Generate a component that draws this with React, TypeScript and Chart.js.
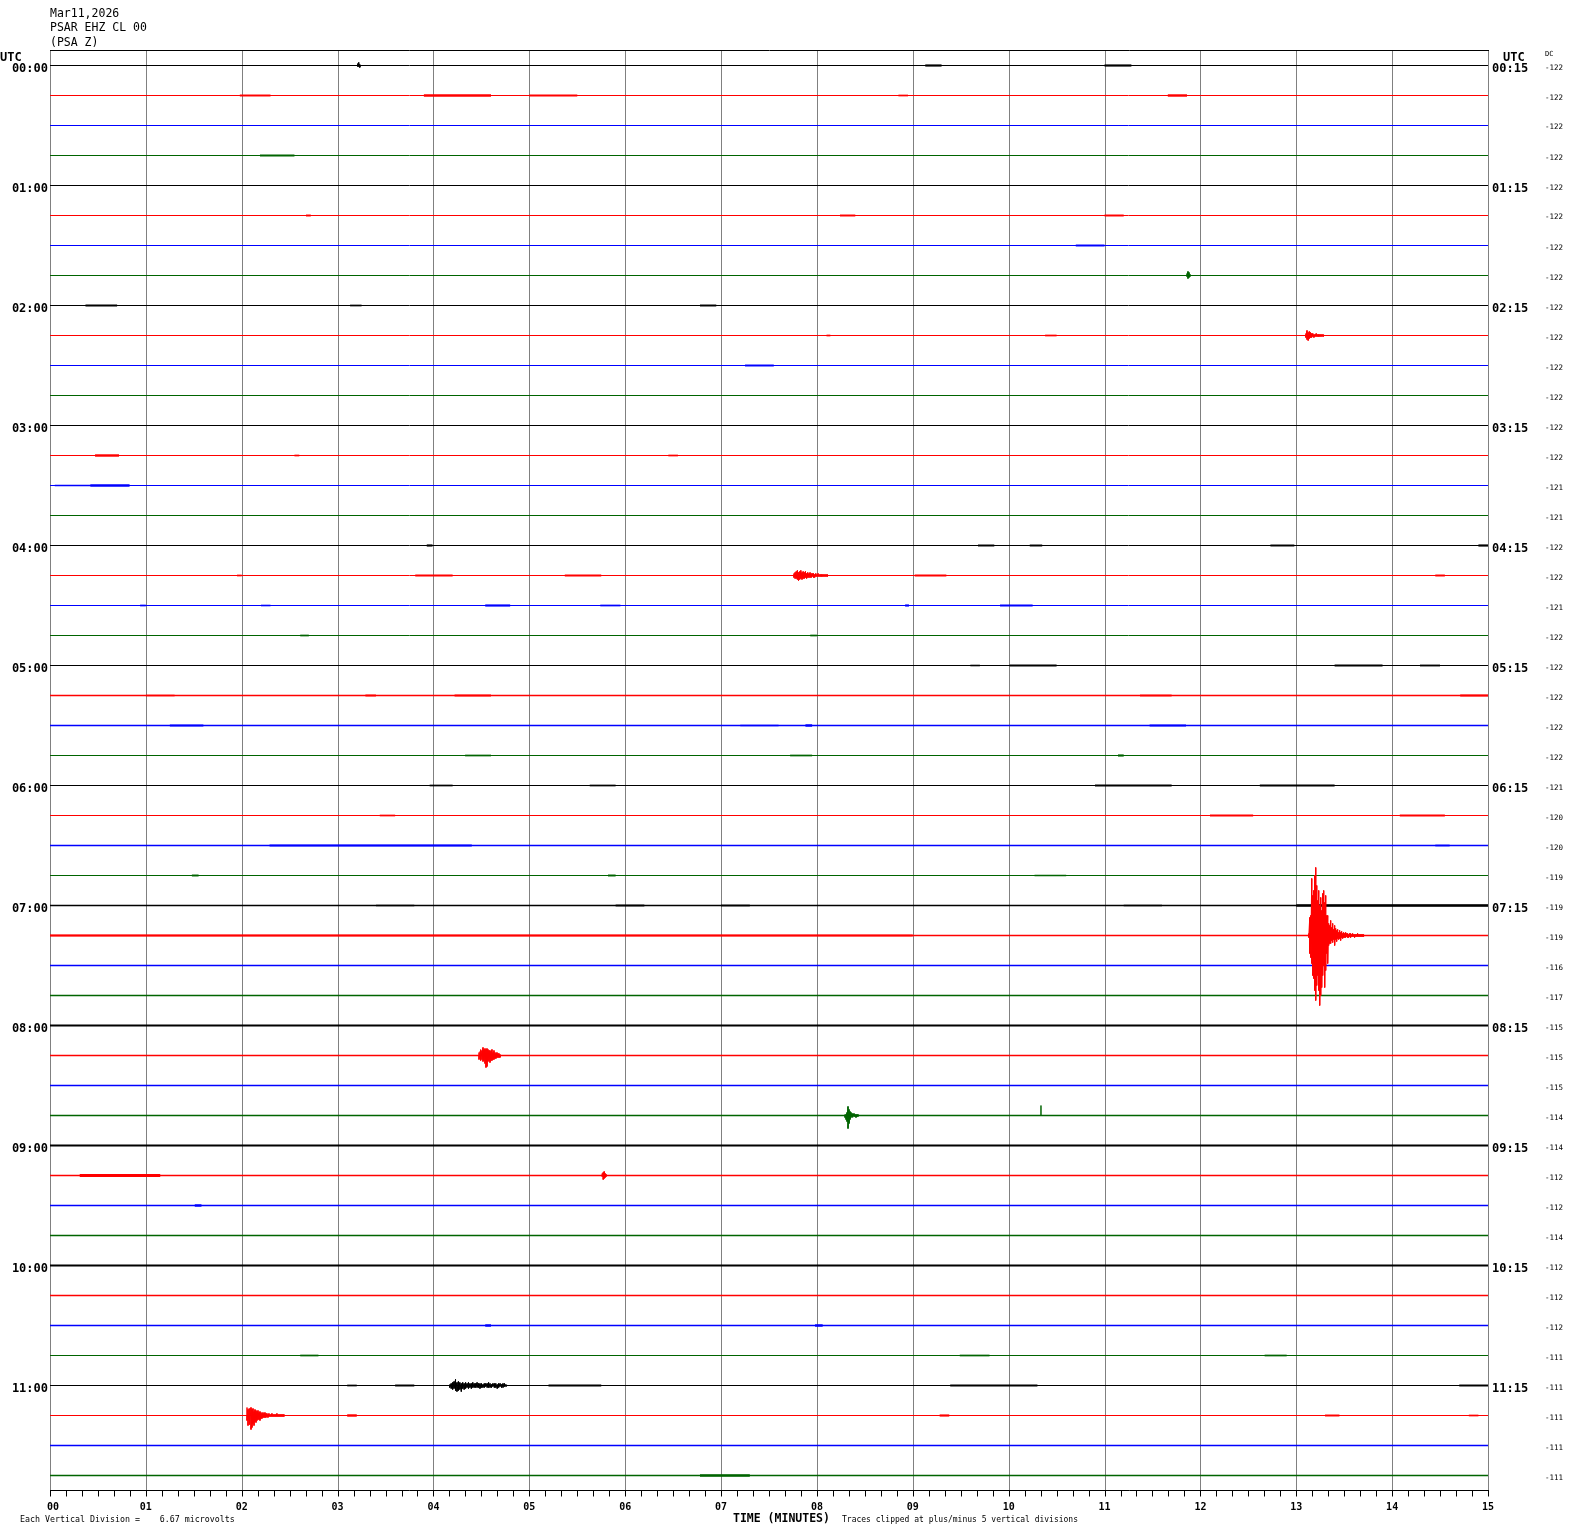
import React, { useEffect, useRef } from "react";
import { Chart, registerables } from "chart.js";

Chart.register(...registerables);

// ---------------- DATA ----------------
const HEADER_LINES = ["Mar11,2026", "PSAR EHZ CL 00", "(PSA Z)"];
const LEFT_HOUR_LABELS = ["00:00", "01:00", "02:00", "03:00", "04:00", "05:00", "06:00", "07:00", "08:00", "09:00", "10:00", "11:00"];
const RIGHT_HOUR_LABELS = ["00:15", "01:15", "02:15", "03:15", "04:15", "05:15", "06:15", "07:15", "08:15", "09:15", "10:15", "11:15"];
const MINUTE_TICKS = ["00", "01", "02", "03", "04", "05", "06", "07", "08", "09", "10", "11", "12", "13", "14", "15"];
const DC_VALUES = [
  -122, -122, -122, -122, -122, -122, -122, -122, -122, -122, -122, -122,
  -122, -122, -121, -121, -122, -122, -121, -122, -122, -122, -122, -122,
  -121, -120, -120, -119, -119, -119, -116, -117, -115, -115, -115, -114,
  -114, -112, -112, -114, -112, -112, -112, -111, -111, -111, -111, -111,
];
// background noise amplitude (units, +/-) per trace
const NOISE = [
  0, 0, 0, 0, 0, 0, 0, 0, 0, 0, 0, 0,
  0, 0, 0, 0, 0, 0, 0, 0, 0.1, 0.3, 0.4, 0.15,
  0.2, 0.2, 0.3, 0.2, 0.4, 0.4, 0.6, 0.6, 0.8, 0.6, 0.6, 0.5,
  0.8, 0.6, 0.6, 0.5, 0.7, 0.5, 0.5, 0.2, 0.2, 0.2, 0.5, 0.5,
];
const TRACE_COUNT = 48;
const SPACING = 30; // data units between trace baselines

// events: trace index, start minute, column step (min), envelope [max, min] per column
type Ev = { trace: number; start: number; dt: number; env: [number, number][] };
const EVENTS: Ev[] = [
  { trace: 0, start: 3.21, dt: 0.0104, env: [[2, -1], [3, -1], [1, -2]] },
  { trace: 7, start: 11.86, dt: 0.0104, env: [[2, -1], [4, -3], [3, -2], [1, -1]] },
  {
    trace: 9, start: 13.1, dt: 0.012,
    env: [[2, -2], [5, -4], [3, -5], [4, -3], [3, -2], [2, -2], [2, -1], [1, -2], [1, -1], [2, -1], [1, -1], [1, -1], [1, -1], [1, -1], [1, -1], [1, -1]],
  },
  {
    trace: 17, start: 7.76, dt: 0.012,
    env: [[2, -2], [3, -3], [4, -3], [5, -4], [3, -5], [4, -4], [5, -3], [3, -4], [4, -3], [3, -3], [4, -2], [2, -3], [3, -2], [2, -2], [3, -2], [2, -2], [2, -1], [2, -2], [1, -2], [2, -1], [1, -1], [2, -1], [1, -1], [1, -1], [1, -1], [1, -1], [1, -1], [1, -1], [1, -1], [1, -1]],
  },
  {
    trace: 29, start: 13.13, dt: 0.0104,
    env: [[2, -2], [18, -18], [20, -22], [57, -28], [40, -40], [45, -43], [60, -55], [68, -65], [50, -50], [35, -40], [45, -55], [30, -70], [38, -60], [25, -52], [42, -40], [45, -30], [33, -52], [40, -35], [20, -18], [20, -28], [12, -10], [10, -8], [15, -8], [8, -5], [12, -7], [6, -4], [10, -10], [7, -4], [5, -6], [6, -3], [3, -4], [5, -3], [3, -5], [4, -2], [2, -3], [3, -2], [2, -2], [3, -2], [2, -1], [2, -2], [1, -2], [2, -1], [2, -2], [1, -1], [2, -1], [1, -1], [1, -2], [1, -1], [1, -1], [2, -1], [1, -1], [1, -1], [1, -1], [1, -1], [1, -1], [1, -1]],
  },
  {
    trace: 33, start: 4.475, dt: 0.0104,
    env: [[3, -4], [4, -3], [6, -5], [5, -4], [8, -6], [6, -5], [7, -8], [6, -12], [7, -11], [6, -6], [5, -5], [5, -7], [4, -5], [6, -5], [3, -4], [5, -4], [3, -3], [2, -3], [3, -2], [2, -2], [2, -2], [1, -2]],
  },
  {
    trace: 35, start: 8.293, dt: 0.0104,
    env: [[1, -2], [1, -4], [3, -6], [9, -13], [6, -8], [4, -4], [3, -2], [2, -2], [1, -1], [2, -1], [1, -1], [1, -2], [1, -1], [1, -1]],
  },
  { trace: 35, start: 10.337, dt: 0.0104, env: [[10, 0]] },
  { trace: 37, start: 5.76, dt: 0.0104, env: [[2, -1], [3, -4], [4, -3], [2, -2], [1, -1]] },
  {
    trace: 44, start: 4.17, dt: 0.015,
    env: [[1, -2], [2, -3], [3, -4], [4, -3], [6, -5], [3, -6], [4, -5], [3, -4], [2, -6], [3, -3], [2, -4], [3, -3], [2, -2], [3, -3], [2, -2], [2, -3], [3, -2], [2, -2], [2, -2], [3, -2], [2, -2], [2, -3], [2, -2], [1, -2], [2, -2], [2, -1], [2, -2], [3, -2], [2, -2], [1, -2], [2, -1], [2, -2], [2, -2], [1, -3], [2, -2], [2, -1], [1, -2], [2, -2], [2, -1], [1, -1]],
  },
  {
    trace: 45, start: 2.055, dt: 0.0104,
    env: [[8, -5], [6, -10], [7, -8], [5, -9], [8, -14], [6, -12], [7, -8], [4, -10], [6, -6], [5, -7], [4, -5], [5, -4], [3, -4], [4, -5], [3, -3], [2, -3], [3, -2], [2, -2], [3, -2], [2, -2], [2, -1], [1, -2], [2, -1], [1, -1], [1, -1], [2, -1], [1, -1], [1, -1], [1, -1], [1, -1], [2, -1], [1, -1], [1, -1], [1, -1], [1, -1], [1, -1], [1, -1], [1, -1]],
  },
];

// small bursts: [trace, start minute, end minute, amplitude]
const SMUDGES: [number, number, number, number][] = [
  [0, 9.13, 9.3, 1], [0, 11.0, 11.28, 1],
  [1, 1.98, 2.3, 0.8], [1, 3.9, 4.6, 1.2], [1, 5.0, 5.5, 0.8], [1, 11.66, 11.86, 1.2], [1, 8.85, 8.95, 0.6],
  [3, 2.19, 2.55, 0.7],
  [5, 2.67, 2.72, 0.8], [5, 8.24, 8.4, 0.8], [5, 11.0, 11.2, 0.8],
  [6, 10.7, 11.0, 0.8],
  [8, 0.37, 0.7, 0.8], [8, 3.13, 3.25, 0.6], [8, 6.78, 6.95, 0.8],
  [9, 10.38, 10.5, 0.6], [9, 8.1, 8.14, 0.6],
  [10, 7.25, 7.55, 0.8],
  [13, 0.47, 0.72, 1.2], [13, 6.45, 6.55, 0.6], [13, 2.55, 2.6, 0.6],
  [14, 0.05, 0.42, 0.6], [14, 0.42, 0.83, 1.3],
  [16, 3.93, 3.99, 1], [16, 9.68, 9.85, 0.8], [16, 10.22, 10.35, 0.8], [16, 12.73, 12.98, 0.8], [16, 14.9, 15, 1],
  [17, 3.81, 4.2, 0.8], [17, 5.37, 5.75, 0.8], [17, 9.02, 9.35, 1], [17, 14.45, 14.55, 0.8], [17, 1.95, 2.0, 0.6],
  [18, 4.54, 4.8, 1], [18, 8.92, 8.96, 1], [18, 9.91, 10.25, 1], [18, 5.74, 5.95, 0.6], [18, 0.94, 1.0, 0.6], [18, 2.2, 2.3, 0.5],
  [19, 2.61, 2.7, 0.6], [19, 7.93, 8.0, 0.6],
  [20, 10.01, 10.5, 0.7], [20, 13.4, 13.9, 0.9], [20, 14.29, 14.5, 0.7], [20, 9.6, 9.7, 0.5],
  [21, 4.22, 4.6, 0.9], [21, 3.29, 3.4, 0.8], [21, 11.37, 11.7, 0.7], [21, 14.71, 15.0, 0.9], [21, 1.0, 1.3, 0.5],
  [22, 1.25, 1.6, 0.9], [22, 7.88, 7.95, 1.2], [22, 11.47, 11.85, 1], [22, 7.2, 7.6, 0.5],
  [23, 4.33, 4.6, 0.6], [23, 7.72, 7.95, 0.6], [23, 11.14, 11.2, 1],
  [24, 3.96, 4.2, 0.6], [24, 5.63, 5.9, 0.6], [24, 10.9, 11.7, 0.9], [24, 12.62, 13.4, 0.9],
  [25, 3.44, 3.6, 0.6], [25, 12.1, 12.55, 0.7], [25, 14.08, 14.55, 0.7],
  [26, 2.29, 4.4, 0.7], [26, 14.45, 14.6, 0.6],
  [27, 1.48, 1.55, 0.8], [27, 5.82, 5.9, 0.8], [27, 10.27, 10.6, 0.6],
  [28, 13.0, 15.0, 1.4], [28, 3.4, 3.8, 0.6], [28, 5.9, 6.2, 0.7], [28, 7.0, 7.3, 0.6], [28, 11.2, 11.6, 0.6],
  [29, 0.0, 9.0, 0.8],
  [37, 0.31, 1.15, 1.6],
  [38, 1.51, 1.58, 1.2],
  [42, 4.54, 4.6, 1.2], [42, 7.98, 8.06, 1.2],
  [43, 9.49, 9.8, 0.6], [43, 12.67, 12.9, 0.6], [43, 2.61, 2.8, 0.6],
  [44, 3.1, 3.2, 0.6], [44, 3.6, 3.8, 0.8], [44, 5.2, 5.75, 0.8], [44, 9.39, 10.3, 0.9], [44, 14.7, 15, 0.8],
  [45, 3.1, 3.2, 1.2], [45, 9.28, 9.38, 1], [45, 13.3, 13.45, 0.8], [45, 14.8, 14.9, 0.6],
  [47, 6.78, 7.3, 1.2],
];

// ---------------- STYLE ----------------
const COLORS = ["#000000", "#ff0000", "#0000ff", "#006400"];
const GRID_GRAY = "#808080";
const MONO = "'DejaVu Sans Mono', 'Liberation Mono', monospace";

const baseOf = (i: number) => -SPACING * i;
const widthFor = (amp: number) => 1 + 1.2 * amp;

const framePlugin = {
  id: "heliFrame",
  beforeDatasetsDraw(chart: any) {
    const { ctx, chartArea } = chart;
    const xs = chart.scales.x;
    ctx.save();
    ctx.lineWidth = 1;
    ctx.strokeStyle = GRID_GRAY;
    for (let m = 0; m <= 15; m++) {
      const px = Math.round(xs.getPixelForValue(m)) + 0.5;
      ctx.beginPath();
      ctx.moveTo(px, chartArea.top);
      ctx.lineTo(px, chartArea.bottom);
      ctx.stroke();
    }
    ctx.strokeStyle = "#000";
    ctx.beginPath();
    ctx.moveTo(chartArea.left, chartArea.top + 0.5);
    ctx.lineTo(Math.round(xs.getPixelForValue(15)) + 1, chartArea.top + 0.5);
    ctx.stroke();
    ctx.restore();
  },
  afterDraw(chart: any) {
    const { ctx, chartArea } = chart;
    const xs = chart.scales.x;
    const ys = chart.scales.y;
    ctx.save();
    // bottom axis
    const axY = chartArea.bottom + 0.5;
    ctx.strokeStyle = "#000";
    ctx.lineWidth = 1;
    ctx.beginPath();
    ctx.moveTo(chartArea.left, axY);
    ctx.lineTo(Math.round(xs.getPixelForValue(15)) + 1, axY);
    ctx.stroke();
    for (let k = 0; k <= 90; k++) {
      const px = Math.round(xs.getPixelForValue(k / 6)) + 0.5;
      ctx.beginPath();
      ctx.moveTo(px, axY);
      ctx.lineTo(px, axY + 6);
      ctx.stroke();
    }
    ctx.fillStyle = "#000";
    ctx.textBaseline = "alphabetic";
    ctx.font = `bold 10px ${MONO}`;
    ctx.textAlign = "center";
    MINUTE_TICKS.forEach((lab, m) => {
      let px = xs.getPixelForValue(m);
      if (m === 0) px += 3;
      ctx.fillText(lab, px, chartArea.bottom + 20);
    });
    ctx.textAlign = "left";
    ctx.font = `bold 11.5px ${MONO}`;
    ctx.fillText("TIME (MINUTES)", 733, chartArea.bottom + 31.5);
    ctx.font = `8px ${MONO}`;
    ctx.fillText("Traces clipped at plus/minus 5 vertical divisions", 842, chartArea.bottom + 32);
    ctx.font = `8.3px ${MONO}`;
    ctx.fillText("Each Vertical Division =    6.67 microvolts", 20, chartArea.bottom + 32);

    // header
    ctx.font = `11.5px ${MONO}`;
    const hb = [16.5, 30.5, 45.5];
    HEADER_LINES.forEach((t, i) => ctx.fillText(t, 50, hb[i]));

    // UTC heads
    ctx.font = `bold 12px ${MONO}`;
    ctx.fillText("UTC", 0, 61);
    ctx.fillText("UTC", 1503, 60.5);
    ctx.font = `7px ${MONO}`;
    ctx.fillText("DC", 1545, 56);

    // hour labels
    ctx.font = `bold 12px ${MONO}`;
    for (let h = 0; h < LEFT_HOUR_LABELS.length; h++) {
      const py = Math.round(ys.getPixelForValue(baseOf(h * 4)));
      ctx.textAlign = "right";
      ctx.fillText(LEFT_HOUR_LABELS[h], 48, py + 5.5);
      ctx.textAlign = "left";
      ctx.fillText(RIGHT_HOUR_LABELS[h], 1492, py + 5.5);
    }
    // DC values
    ctx.textAlign = "left";
    ctx.font = `7.5px ${MONO}`;
    DC_VALUES.forEach((v, i) => {
      const py = Math.round(ys.getPixelForValue(baseOf(i)));
      ctx.fillText(String(v), 1545, py + 4);
    });
    ctx.restore();
  },
};

export default function App() {
  const ref = useRef<HTMLCanvasElement | null>(null);

  useEffect(() => {
    document.body.style.margin = "0";
    const canvas = ref.current;
    if (!canvas) return;

    const datasets: any[] = [];
    // events on top (first datasets are drawn last)
    EVENTS.forEach((e) => {
      const base = baseOf(e.trace);
      const pts: { x: number; y: number }[] = [{ x: e.start, y: base }];
      e.env.forEach(([hi, lo], k) => {
        const x = e.start + k * e.dt;
        pts.push({ x, y: base + hi });
        pts.push({ x, y: base + lo });
      });
      pts.push({ x: e.start + e.env.length * e.dt, y: base });
      datasets.push({
        data: pts,
        borderColor: COLORS[e.trace % 4],
        borderWidth: 1,
        pointRadius: 0,
        tension: 0,
        fill: false,
      });
    });
    SMUDGES.forEach(([tr, t0, t1, amp]) => {
      const base = baseOf(tr);
      datasets.push({
        data: [{ x: t0, y: base }, { x: t1, y: base }],
        borderColor: COLORS[tr % 4],
        borderWidth: widthFor(amp),
        borderCapStyle: "butt",
        pointRadius: 0,
        tension: 0,
        fill: false,
      });
    });
    for (let i = 0; i < TRACE_COUNT; i++) {
      const base = baseOf(i);
      datasets.push({
        data: [{ x: 0, y: base }, { x: 15, y: base }],
        borderColor: COLORS[i % 4],
        borderWidth: widthFor(NOISE[i]),
        borderCapStyle: "butt",
        pointRadius: 0,
        tension: 0,
        fill: false,
      });
    }

    const chart = new Chart(canvas, {
      type: "line",
      data: { datasets },
      options: {
        responsive: false,
        animation: false,
        devicePixelRatio: 1,
        events: [],
        layout: { padding: { left: 50, right: 82, top: 50, bottom: 44 } },
        plugins: { legend: { display: false }, tooltip: { enabled: false } },
        scales: {
          x: { type: "linear", min: 0, max: 15, display: false },
          y: { type: "linear", min: baseOf(TRACE_COUNT - 1) - 14.5, max: 15.5, display: false },
        },
      },
      plugins: [framePlugin],
    } as any);

    return () => chart.destroy();
  }, []);

  return (
    <div style={{ position: "absolute", left: 0, top: 0, width: 1570, height: 1534, background: "#fff" }}>
      <canvas ref={ref} width={1570} height={1534} style={{ width: 1570, height: 1534, display: "block" }} />
    </div>
  );
}
